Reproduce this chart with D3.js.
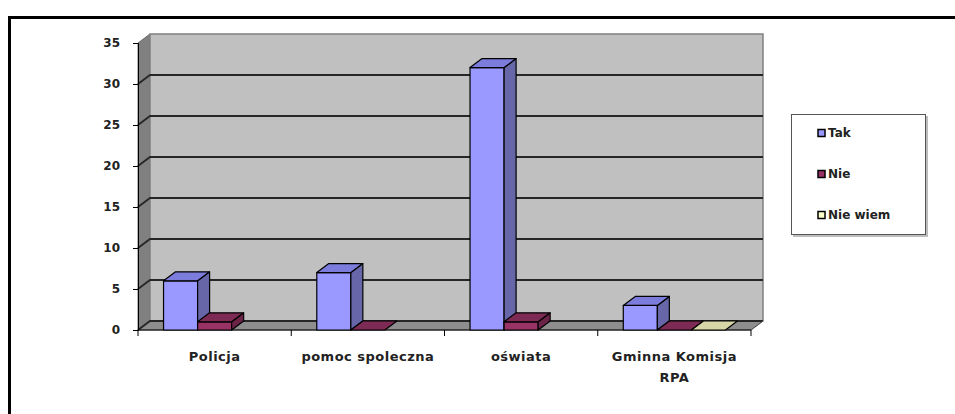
<!DOCTYPE html>
<meta charset="utf-8">
<style>
body { margin: 0; background: #fff; }
svg text { font-family: 'DejaVu Sans', sans-serif; font-weight: bold; fill: #222; }
</style>
<svg width="955" height="414"></svg>
<script src="https://cdn.jsdelivr.net/npm/d3@7/dist/d3.min.js"></script>
<script>
// data
var categories = [["Policja"], ["pomoc spoleczna"], ["oświata"], ["Gminna Komisja", "RPA"]];
var seriesNames = ["Tak", "Nie", "Nie wiem"];
var tak = [6, 7, 32, 3];
var nie = [1, 0, 1, 0];
var nieWiem = [null, null, null, 0];
var yTicks = [0, 5, 10, 15, 20, 25, 30, 35];

var series = [tak, nie, nieWiem];
var colors = {
  "Tak":      {front: "#9999ff", side: "#6666a8", top: "#7c7cdc"},
  "Nie":      {front: "#993366", side: "#6b2447", top: "#7d2a55"},
  "Nie wiem": {front: "#ffffcc", side: "#b3b38f", top: "#d6d6a6"}
};

var svg = d3.select("svg");

// outer frame
svg.append("rect")
  .attr("x", 9.5).attr("y", 17.5)
  .attr("width", 960).attr("height", 420)
  .attr("fill", "none").attr("stroke", "#000").attr("stroke-width", 3);

var dx = 12, dy = -9;

var x = d3.scaleBand()
  .domain(d3.range(categories.length))
  .range([138, 751])
  .paddingInner(0).paddingOuter(0);

var xs = d3.scaleBand()
  .domain(seriesNames)
  .range([0, x.bandwidth()])
  .paddingInner(0).paddingOuter(0.75);

var y = d3.scaleLinear().domain([0, 35]).range([330, 43]);

var x0 = x.range()[0], x1 = x.range()[1];
var y0 = y(0), yTop = y(35);

function pts(a) { return a.map(function(p) { return p.join(","); }).join(" "); }

// left wall
svg.append("polygon")
  .attr("points", pts([[x0, yTop], [x0 + dx, yTop + dy], [x0 + dx, y0 + dy], [x0, y0]]))
  .attr("fill", "#808080").attr("stroke", "#6a6a6a");

// back wall
svg.append("rect")
  .attr("x", x0 + dx).attr("y", yTop + dy)
  .attr("width", x1 - x0).attr("height", y0 - yTop)
  .attr("fill", "#c0c0c0").attr("stroke", "#808080").attr("stroke-width", 1.5);

// floor
svg.append("polygon")
  .attr("points", pts([[x0, y0], [x1, y0], [x1 + dx, y0 + dy], [x0 + dx, y0 + dy]]))
  .attr("fill", "#8e8e8e").attr("stroke", "#6a6a6a");

// gridlines
var grid = svg.append("g").attr("stroke", "#262626").attr("stroke-width", 1.8).attr("fill", "none");
yTicks.forEach(function(t) {
  if (t === 35) return;
  grid.append("polyline")
    .attr("points", pts([[x0, y(t)], [x0 + dx, y(t) + dy], [x1 + dx, y(t) + dy]]));
});

// y axis
var yAxis = svg.append("g")
  .attr("transform", "translate(" + x0 + ",0)")
  .call(d3.axisLeft(y).tickValues(yTicks).tickSize(5).tickPadding(13));
yAxis.select(".domain").attr("stroke", "#000");
yAxis.selectAll("text").attr("font-size", 12).style("font-family", "'DejaVu Sans', sans-serif").attr("fill", "#222");

// x axis
var xAxis = svg.append("g")
  .attr("transform", "translate(0," + y0 + ")");
xAxis.append("line")
  .attr("x1", x0).attr("x2", x1).attr("stroke", "#000");
xAxis.selectAll(".tk")
  .data(d3.range(categories.length + 1))
  .enter().append("line")
    .attr("class", "tk")
    .attr("x1", function(i) { return i < categories.length ? x(i) : x1; })
    .attr("x2", function(i) { return i < categories.length ? x(i) : x1; })
    .attr("y1", 0).attr("y2", 6)
    .attr("stroke", "#000");

// floor front-right edge
svg.append("line")
  .attr("x1", x1).attr("y1", y0).attr("x2", x1 + dx).attr("y2", y0 + dy)
  .attr("stroke", "#555");

// category labels
categories.forEach(function(lines, i) {
  var t = svg.append("text")
    .attr("x", x(i) + x.bandwidth() / 2)
    .attr("y", 361)
    .attr("text-anchor", "middle")
    .attr("font-size", 13)
    .attr("letter-spacing", 0.5);
  lines.forEach(function(l, j) {
    t.append("tspan").attr("x", x(i) + x.bandwidth() / 2).attr("dy", j ? 21 : 0).text(l);
  });
});

// bars
var bars = svg.append("g").attr("stroke", "#000").attr("stroke-width", 1.2).attr("stroke-linejoin", "round");
categories.forEach(function(c, i) {
  seriesNames.forEach(function(name, k) {
    var v = series[k][i];
    if (v === null) return;
    var bx = x(i) + xs(name), w = xs.bandwidth(), by = y(v);
    var col = colors[name];
    if (v > 0) {
      bars.append("rect")
        .attr("x", bx).attr("y", by).attr("width", w).attr("height", y0 - by)
        .attr("fill", col.front);
      bars.append("polygon")
        .attr("points", pts([[bx + w, by], [bx + w + dx, by + dy], [bx + w + dx, y0 + dy], [bx + w, y0]]))
        .attr("fill", col.side);
    }
    bars.append("polygon")
      .attr("points", pts([[bx, by], [bx + w, by], [bx + w + dx, by + dy], [bx + dx, by + dy]]))
      .attr("fill", col.top);
  });
});

// legend
var lg = svg.append("g").attr("transform", "translate(791,114)");
lg.append("rect").attr("x", 2).attr("y", 2).attr("width", 135).attr("height", 121).attr("fill", "#bdbdbd");
lg.append("rect").attr("x", 0.5).attr("y", 0.5).attr("width", 134).attr("height", 120)
  .attr("fill", "#fff").attr("stroke", "#555");
var item = lg.selectAll(".item")
  .data(seriesNames)
  .enter().append("g")
    .attr("transform", function(d, i) { return "translate(27," + (19 + i * 41) + ")"; });
item.append("rect")
  .attr("x", 0).attr("y", -3.5).attr("width", 7).attr("height", 7)
  .attr("fill", function(d) { return colors[d].front; })
  .attr("stroke", "#000").attr("stroke-width", 1.5);
item.append("text")
  .attr("x", 10).attr("y", 0).attr("dy", "0.35em")
  .attr("font-size", 12)
  .text(function(d) { return d; });
</script>
